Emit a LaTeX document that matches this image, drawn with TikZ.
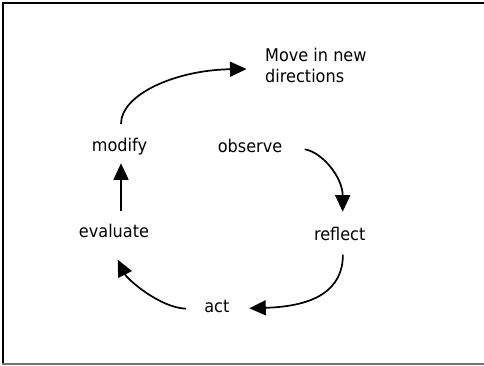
\documentclass[tikz,border=0pt]{standalone}
\usepackage{fontspec}
\setmainfont[FakeStretch=0.92]{DejaVu Sans}
\usetikzlibrary{arrows.meta,calc}
\begin{document}
\begin{tikzpicture}[x=1pt,y=-1pt,
  lbl/.style={inner sep=0pt,font=\fontsize{17.5}{21}\selectfont},
  conn/.style={line width=1.7pt,-{Triangle[length=16.5pt,width=15pt]}}]
\useasboundingbox (0,0) rectangle (484,365);
\fill[white] (0,0) rectangle (484,365);
\draw[line width=2pt,black] (2.5,365) -- (2.5,2.5) -- (484,2.5);
\draw[line width=1.2pt,black!55] (2,364) -- (484,364);
\node[lbl,anchor=base west,align=left] (move) at (265,82.7) {Move in new\\directions};
\node[lbl,anchor=base] (modify) at (119.5,151) {modify};
\node[lbl,anchor=base] (observe) at (250,152.7) {observe};
\node[lbl,anchor=base] (evaluate) at (114,237.7) {evaluate};
\node[lbl,anchor=base] (reflect) at (339.7,240.7) {reflect};
\node[lbl,anchor=base] (act) at (216.8,312.3) {act};
\draw[conn] ($(modify.base)+(1.5,-27)$) .. controls +(0,-30) and +(-70,1) .. ($(move.base west)+(-18.5,-13.7)$);
\draw[conn] ($(observe.base)+(54.7,-3.4)$) .. controls +(18,3) and +(0,-34) .. ($(reflect.base)+(3,-29)$);
\draw[conn] ($(reflect.base)+(3.2,14)$) .. controls +(0,35) and +(66,-2) .. ($(act.base)+(32.5,-4)$);
\draw[conn] ($(act.base)+(-30.8,-3.6)$) .. controls +(-26,-1) and +(10,20) .. ($(evaluate.base)+(3.7,22)$);
\draw[conn] ($(evaluate.base)+(7,-26.7)$) -- ($(modify.base)+(1.5,12.3)$);
\end{tikzpicture}
\end{document}
